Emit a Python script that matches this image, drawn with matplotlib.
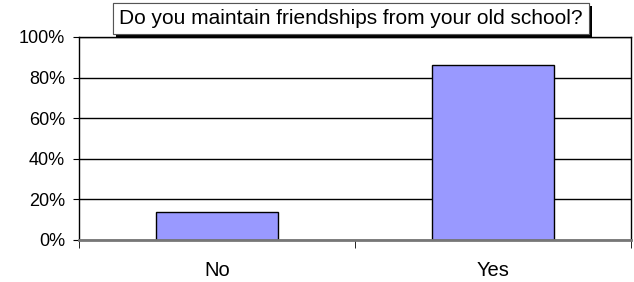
import matplotlib.pyplot as plt
import matplotlib.patheffects as pe
from matplotlib.ticker import FixedLocator, PercentFormatter

categories = ['No', 'Yes']
values = [14, 86]
y_ticks = [0, 20, 40, 60, 80, 100]
title = 'Do you maintain friendships from your old school?'

plt.rcParams['font.family'] = ['Liberation Sans', 'DejaVu Sans']

fig = plt.figure(figsize=(6.34, 2.82), dpi=100)
ax = fig.add_axes([79 / 634, 42 / 282, 552 / 634, 203 / 282])

x = list(range(len(categories)))
ax.bar(x, values, width=0.44, color='#9999FF', edgecolor='black', linewidth=1, zorder=3)

ax.set_xlim(-0.5, len(categories) - 0.5)
ax.set_ylim(0, 100)
ax.set_yticks(y_ticks)
ax.yaxis.set_major_formatter(PercentFormatter(decimals=0))
ax.yaxis.grid(True, color='black', linewidth=1, zorder=1)

ax.set_xticks(x)
ax.set_xticklabels(categories)
ax.xaxis.set_minor_locator(FixedLocator([-0.5, 0.5, 1.5]))
ax.tick_params(axis='x', which='major', length=0, pad=15, labelsize=14.5)
ax.tick_params(axis='x', which='minor', length=6, direction='out', color='black')
ax.tick_params(axis='y', length=4, pad=6, labelsize=13)

for side in ['left', 'top', 'right']:
    ax.spines[side].set_color('black')
    ax.spines[side].set_linewidth(1)
ax.spines['bottom'].set_color('#777777')
ax.spines['bottom'].set_linewidth(2)
ax.spines['bottom'].set_zorder(4)

t = fig.text(0.553, 0.934, title, ha='center', va='center', fontsize=15,
             bbox=dict(boxstyle='square,pad=0.3', facecolor='white', edgecolor='#555555', linewidth=0.8))
t.get_bbox_patch().set_path_effects([
    pe.withSimplePatchShadow(offset=(2.5, -2.5), shadow_rgbFace='black', alpha=1.0),
    pe.Normal()])

fig.savefig('out.png', dpi=100)
